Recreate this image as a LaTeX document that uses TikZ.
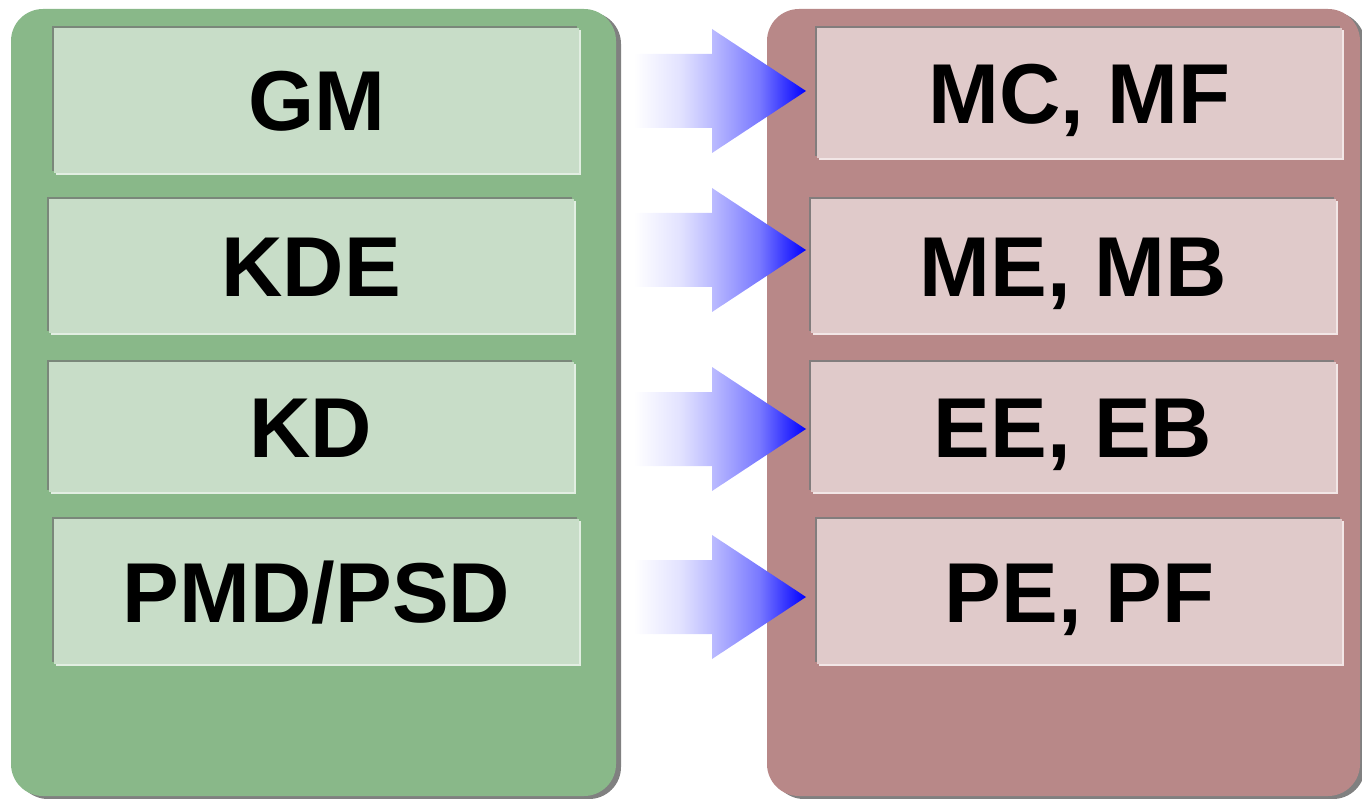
\documentclass[tikz,border=0pt]{standalone}
\usepackage{fontspec}
\setmainfont{Liberation Sans}
\usetikzlibrary{shadows}
\definecolor{gpanel}{RGB}{137,184,137}
\definecolor{gbox}{RGB}{200,221,200}
\definecolor{gdark}{RGB}{122,135,122}
\definecolor{glight}{RGB}{226,238,226}
\definecolor{rpanel}{RGB}{184,136,136}
\definecolor{rbox}{RGB}{224,202,202}
\definecolor{rdark}{RGB}{130,125,125}
\definecolor{rlight}{RGB}{242,230,230}
\definecolor{pshadow}{RGB}{128,128,128}
\definecolor{arrowblue}{RGB}{0,0,255}
\definecolor{ablueA}{RGB}{226,226,255}
\definecolor{ablueB}{RGB}{188,188,255}
\definecolor{ablueC}{RGB}{120,120,255}
\pgfdeclarehorizontalshading{arrowshade}{100bp}{color(0bp)=(white); color(25bp)=(white);
  color(38.5bp)=(ablueA); color(47.5bp)=(ablueB); color(61.5bp)=(ablueC);
  color(75bp)=(arrowblue); color(100bp)=(arrowblue)}
\begin{document}
\begin{tikzpicture}[x=1pt,y=-1pt,
  panel/.style={draw=none, rounded corners=32pt, inner sep=0pt,
    general shadow={fill=pshadow, shadow xshift=5pt, shadow yshift=-3pt}},
  box/.style={inner sep=0pt, minimum width=525pt, text height=61pt, text depth=0pt,
    font=\fontsize{85}{90}\selectfont\bfseries},
  gb/.style={box, fill=gbox,
    general shadow={fill=glight, shadow xshift=2pt, shadow yshift=-2pt},
    general shadow={fill=gdark, shadow xshift=-2pt, shadow yshift=2pt}},
  rb/.style={box, fill=rbox,
    general shadow={fill=rlight, shadow xshift=2pt, shadow yshift=-2pt},
    general shadow={fill=rdark, shadow xshift=-2pt, shadow yshift=2pt}},
  blockarrow/.style={shading=arrowshade}
]
\useasboundingbox (0,0) rectangle (1362,799);
\begin{scope}
\clip (0,0) rectangle (1362,799);
% panels
\node[panel, fill=gpanel, minimum width=605pt, minimum height=787pt] (left) at (313.5,402.5) {};
\node[panel, fill=rpanel, minimum width=593pt, minimum height=787pt] (right) at (1063.5,402.5) {};
\end{scope}
% left boxes
\node[gb, minimum height=145pt] (g1) at (316.5,100.5) {GM};
\node[gb, minimum height=134pt] (g2) at (311,266) {KDE};
\node[gb, minimum height=130pt] (g3) at (311,427) {KD};
\node[gb, minimum height=145pt] (g4) at (316.5,591.5) {PMD/PSD};
% right boxes
\node[rb, minimum height=130pt] (r1) at (1079.5,93) {MC, MF};
\node[rb, minimum height=134pt] (r2) at (1073,266) {ME, MB};
\node[rb, minimum height=130pt] (r3) at (1073,427) {EE, EB};
\node[rb, minimum height=145pt] (r4) at (1079.5,591.5) {PE, PF};
% block arrows
\foreach \yc in {91,250,429,597}{
  \shade[blockarrow] (634,\yc-37) -- (712,\yc-37) -- (712,\yc-62) -- (806,\yc)
    -- (712,\yc+62) -- (712,\yc+37) -- (634,\yc+37) -- cycle;
}
\end{tikzpicture}
\end{document}
